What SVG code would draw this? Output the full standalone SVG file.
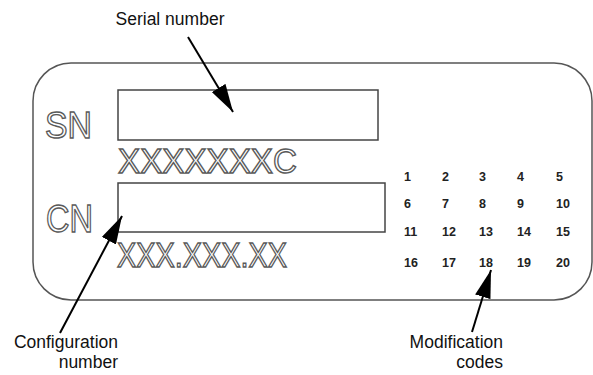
<svg xmlns="http://www.w3.org/2000/svg" width="593" height="375" viewBox="0 0 593 375">
<style>
.lbl{font-family:"Liberation Sans",Arial,sans-serif;font-size:17.5px;fill:#111}
.out{font-family:"Liberation Sans",Arial,sans-serif;fill:#fff;stroke:#5a5a5a;stroke-width:1.4px}
.num{font-family:"Liberation Sans",Arial,sans-serif;font-size:12.5px;font-weight:bold;fill:#222}
.box{fill:none;stroke:#444;stroke-width:1.5}
.arr{fill:none;stroke:#000;stroke-width:2;marker-end:url(#ah)}
</style>
<defs>
<marker id="ah" viewBox="0 0 28 16" refX="28" refY="8" markerWidth="28" markerHeight="16" markerUnits="userSpaceOnUse" orient="auto">
<path d="M0,0 L28,8 L0,16 z" fill="#000"/>
</marker>
</defs>
<rect width="593" height="375" fill="#fff"/>
<g id="plate">
<rect x="33" y="63" width="559" height="237" rx="38" ry="38" fill="none" stroke="#555" stroke-width="1.5"/>
</g>
<g id="sn-field">
<text class="out" x="45" y="138" font-size="37" textLength="47" lengthAdjust="spacingAndGlyphs">SN</text>
<rect class="box" x="118" y="90" width="260" height="50"/>
<text class="out" x="118" y="173" font-size="35" textLength="179" lengthAdjust="spacingAndGlyphs">XXXXXXXC</text>
</g>
<g id="cn-field">
<text class="out" x="46" y="232" font-size="38" textLength="47" lengthAdjust="spacingAndGlyphs">CN</text>
<rect class="box" x="118" y="183" width="267" height="49"/>
<text class="out" x="117" y="267" font-size="35" textLength="170" lengthAdjust="spacingAndGlyphs">XXX.XXX.XX</text>
</g>
<g id="mod-codes">
<text class="num" x="404" y="181">1</text>
<text class="num" x="442" y="181">2</text>
<text class="num" x="479" y="181">3</text>
<text class="num" x="517" y="181">4</text>
<text class="num" x="556" y="181">5</text>
<text class="num" x="404" y="208">6</text>
<text class="num" x="442" y="208">7</text>
<text class="num" x="479" y="208">8</text>
<text class="num" x="517" y="208">9</text>
<text class="num" x="556" y="208">10</text>
<text class="num" x="404" y="236">11</text>
<text class="num" x="442" y="236">12</text>
<text class="num" x="479" y="236">13</text>
<text class="num" x="517" y="236">14</text>
<text class="num" x="556" y="236">15</text>
<text class="num" x="404" y="267">16</text>
<text class="num" x="442" y="267">17</text>
<text class="num" x="479" y="267">18</text>
<text class="num" x="517" y="267">19</text>
<text class="num" x="556" y="267">20</text>
</g>
<g id="label-serial">
<text class="lbl" x="170" y="25" text-anchor="middle">Serial number</text>
</g>
<g id="label-config">
<text class="lbl" x="118" y="348" text-anchor="end">Configuration</text>
<text class="lbl" x="118" y="368" text-anchor="end">number</text>
</g>
<g id="label-mod">
<text class="lbl" x="503" y="348" text-anchor="end">Modification</text>
<text class="lbl" x="503" y="368" text-anchor="end">codes</text>
</g>
<g id="connectors">
<path class="arr" d="M188,37 L233,112"/>
<path class="arr" d="M60,333 L122,216"/>
<path class="arr" d="M472,332 L491,270"/>
</g>
</svg>
